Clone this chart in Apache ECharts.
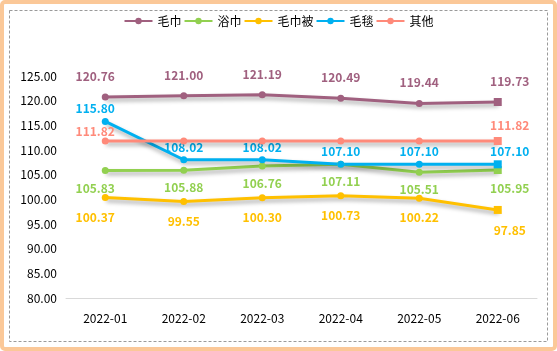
<!DOCTYPE html>
<html><head><meta charset="utf-8">
<script src="https://cdn.jsdelivr.net/npm/echarts@6/dist/echarts.min.js"></script>
<style>html,body{margin:0;padding:0;background:#fff}#c{width:557px;height:351px}</style>
</head><body><div id="c"></div>
<script>
const categories = ['2022-01','2022-02','2022-03','2022-04','2022-05','2022-06'];
const seriesNames = ['毛巾','浴巾','毛巾被','毛毯','其他'];
const towel = [120.76,121.00,121.19,120.49,119.44,119.73];
const bathTowel = [105.83,105.88,106.76,107.11,105.51,105.95];
const towelBlanket = [100.37,99.55,100.30,100.73,100.22,97.85];
const blanket = [115.80,108.02,108.02,107.10,107.10,107.10];
const other = [111.82,111.82,111.82,111.82,111.82,111.82];
const yTicks = [80,85,90,95,100,105,110,115,120,125];

const colors = ['#A0607F','#92D050','#FFC000','#00B0F0','#FF8A7A'];
const font = "'Noto Sans CJK SC','Open Sans',sans-serif";
const cfg = [
  {data: towel, pos:'top', dist:11},
  {data: bathTowel, pos:'bottom', dist:8},
  {data: towelBlanket, pos:'bottom', dist:10},
  {data: blanket, pos:'top', dist:3},
  {data: other, pos:'top', dist:3, endsOnly:true}
];
const series = cfg.map((c,si)=>({
  name: seriesNames[si],
  type: 'line',
  z: si===4 ? 3 : 2,
  data: c.data.map((v,i)=>{
    const item = {value: v};
    const last = i === c.data.length-1;
    if (last) { item.symbol = 'rect'; item.symbolSize = 8; }
    let ox = i===0 ? -10 : (last ? 12 : 0);
    let oy = 0;
    if (si===4 && i===0) oy = 3;
    if (si===4 && last) oy = -3;
    item.label = {offset:[ox,oy]};
    if (c.endsOnly && i>0 && !last) item.label.show = false;
    return item;
  }),
  symbol: 'circle',
  symbolSize: 7,
  showAllSymbol: true,
  lineStyle: {width: 3, color: colors[si], shadowColor:'rgba(0,0,0,0.35)', shadowBlur:4, shadowOffsetY:3, shadowOffsetX:1},
  itemStyle: {color: colors[si]},
  label: {show:true, position:c.pos, distance:c.dist, color: colors[si], fontWeight:'bold', fontSize:12, fontFamily:font,
    formatter: p => p.value.toFixed(2)},
  emphasis: {disabled:true},
  animation: false
}));

const chart = echarts.init(document.getElementById('c'), null, {renderer:'canvas'});
chart.setOption({
  animation: false,
  color: colors,
  graphic: [
    {type:'rect', shape:{x:2,y:2,width:553,height:347,r:3}, style:{fill:'none', stroke:'#FBC898', lineWidth:4}, silent:true, z:-1},
    {type:'rect', shape:{x:9.5,y:10.5,width:538,height:331}, style:{fill:'none', stroke:'#9A9A9A', lineWidth:1, lineDash:[3,2]}, silent:true, z:-1}
  ],
  legend: {
    top: 10, left: 'center',
    itemWidth: 28, itemHeight: 8, itemGap: 2,
    textStyle: {fontSize:12, color:'#000', fontFamily:font},
    data: seriesNames
  },
  grid: {left:66, right:20, top:76, bottom:53, containLabel:false},
  xAxis: {
    type:'category', data: categories, boundaryGap:true,
    axisLine:{lineStyle:{color:'#D9D9D9', width:1}},
    axisTick:{show:false},
    axisLabel:{color:'#000', fontSize:12, fontFamily:font, margin:14}
  },
  yAxis: {
    type:'value', min: yTicks[0], max: yTicks[yTicks.length-1], interval: 5,
    axisLine:{show:false}, axisTick:{show:false}, splitLine:{show:false},
    axisLabel:{color:'#000', fontSize:12, fontFamily:font, margin:9, formatter: v => v.toFixed(2)}
  },
  series: series
});
</script></body></html>
